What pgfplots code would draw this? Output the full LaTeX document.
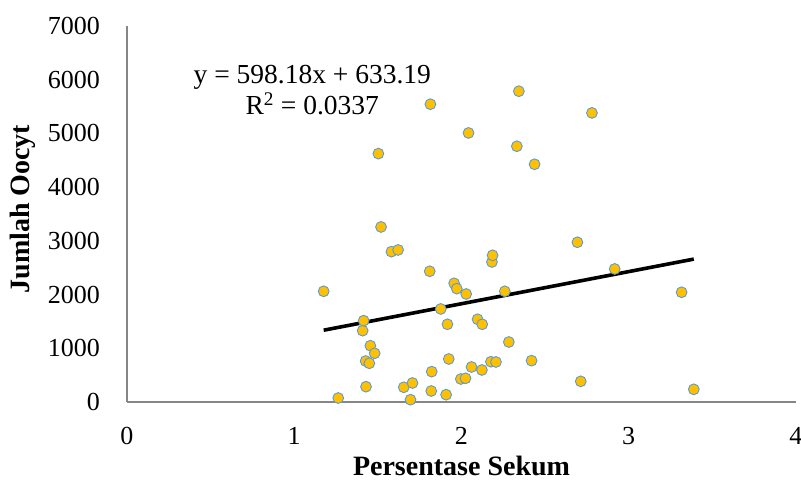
\documentclass[border=0pt]{standalone}
\usepackage{pgfplots}
\pgfplotsset{compat=1.18}
\usepackage{fontspec}
\setmainfont{Liberation Serif}
\definecolor{gold}{HTML}{FFC000}
\definecolor{edge}{HTML}{5B9BD5}
\definecolor{axgray}{HTML}{868686}
\begin{document}
\begin{tikzpicture}
\path[use as bounding box] (-127pt,-83pt) rectangle (674pt,402pt);
\begin{axis}[
 scale only axis, width=669pt, height=376pt,
 xmin=0, xmax=4, ymin=0, ymax=7000,
 axis x line=bottom, axis y line=left,
 axis line style={axgray, line width=1.6pt, -},
 xtick={0,1,2,3,4}, ytick={0,1000,...,7000},
 major tick length=0pt,
 /pgf/number format/assume math mode=true,
 /pgf/number format/1000 sep={},
 scaled y ticks=false,
 tick label style={font=\fontsize{26}{30}\selectfont, inner sep=0pt},
 yticklabel style={anchor=east, xshift=-27pt},
 xticklabel style={anchor=north, yshift=-25pt},
 xlabel={\textbf{Persentase Sekum}},
 ylabel={\textbf{Jumlah Oocyt}},
 label style={font=\fontsize{28}{32}\selectfont},
 xlabel style={at={(axis description cs:0.5,-0.170)}, anchor=center},
 ylabel style={at={(axis description cs:-0.1555,0.513)}, anchor=center},
 clip=false,
]
\addplot[only marks, mark=*, mark size=5.4pt, mark options={fill=gold, draw=edge, line width=0.9pt}] table {
x y
1.176 2061
1.263 74
1.409 1328
1.415 1514
1.427 763
1.429 285
1.449 721
1.455 1048
1.481 907
1.503 4624
1.519 3259
1.581 2799
1.621 2831
1.655 274
1.695 43
1.707 354
1.810 2434
1.814 5544
1.819 205
1.822 565
1.876 1732
1.908 136
1.916 1447
1.924 801
1.956 2210
1.972 2110
1.996 428
2.024 441
2.028 2011
2.042 5009
2.060 652
2.096 1540
2.122 596
2.124 1447
2.176 750
2.182 2607
2.186 2731
2.206 745
2.259 2061
2.283 1117
2.331 4761
2.343 5786
2.419 770
2.437 4426
2.693 2974
2.713 385
2.780 5382
2.916 2477
3.316 2043
3.389 236
};
\addplot[black, line width=3.6pt] coordinates {(1.176,1336.65) (3.389,2660.42)};
\node[anchor=base, font=\fontsize{27.5}{31}\selectfont, inner sep=0pt] at (axis cs:1.108,5922) {y = 598.18x + 633.19};
\node[anchor=base, font=\fontsize{27.5}{31}\selectfont, inner sep=0pt] at (axis cs:1.108,5345) {R\textsuperscript{2} = 0.0337};
\end{axis}
\end{tikzpicture}
\end{document}
